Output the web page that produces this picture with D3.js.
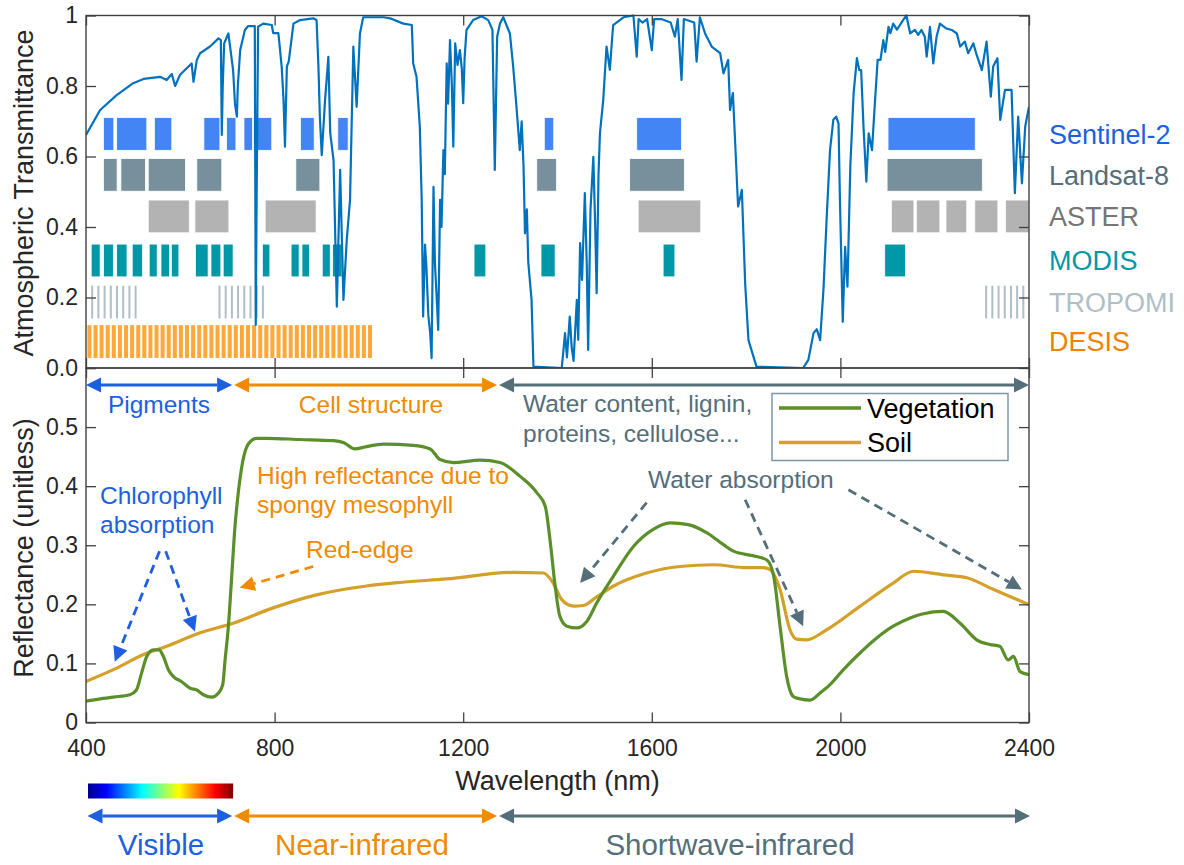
<!DOCTYPE html>
<html>
<head>
<meta charset="utf-8">
<script src="https://cdn.jsdelivr.net/npm/d3@7"></script>
<style>
  body { margin: 0; background: #fff; }
  svg { font-family: "Liberation Sans", Arial, sans-serif; }
</style>
</head>
<body>
<div id="chart"></div>
<script>
// atmospheric transmittance: [wavelength nm, transmittance]
const transmittance = [
  [400,0.661],[430,0.732],[465,0.774],[500,0.808],[522,0.820],[557,0.826],[571,0.817],[582,0.834],[589,0.800],[599,0.831],
  [624,0.864],[628,0.812],[635,0.874],[642,0.893],[663,0.912],[681,0.935],[686,0.930],[688,0.661],[690,0.800],[693,0.921],
  [702,0.949],[712,0.845],[716,0.750],[720,0.713],[722,0.800],[727,0.902],[737,0.959],[744,0.970],[758,0.970],[760,0.122],
  [762,0.500],[765,0.968],[776,0.977],[794,0.973],[797,0.950],[808,0.950],[815,0.855],[819,0.760],[822,0.628],[826,0.855],
  [830,0.870],[840,0.977],[854,0.987],[882,0.992],[889,0.987],[893,0.855],[896,0.713],[900,0.604],[907,0.760],[914,0.883],
  [918,0.666],[925,0.590],[932,0.174],[939,0.562],[946,0.193],[953,0.363],[960,0.477],[967,0.912],[974,0.741],[981,0.949],
  [988,0.995],[1031,0.995],[1045,0.992],[1073,0.977],[1091,0.973],[1094,0.864],[1101,0.826],[1108,0.684],[1112,0.477],[1115,0.146],
  [1119,0.350],[1122,0.287],[1126,0.150],[1130,0.099],[1133,0.028],[1137,0.514],[1140,0.300],[1144,0.193],[1147,0.108],[1151,0.477],
  [1154,0.400],[1158,0.618],[1161,0.550],[1165,0.864],[1168,0.750],[1172,0.930],[1176,0.800],[1179,0.628],[1183,0.921],[1188,0.860],
  [1193,0.902],[1197,0.850],[1200,0.751],[1203,0.880],[1207,0.959],[1221,0.987],[1239,0.998],[1253,0.987],[1262,0.960],[1267,0.562],
  [1272,0.940],[1278,0.977],[1285,0.995],[1299,0.949],[1306,0.855],[1313,0.741],[1320,0.618],[1324,0.700],[1328,0.571],[1331,0.382],
  [1335,0.450],[1338,0.300],[1345,0.193],[1349,0.004],[1409,0.000],[1416,0.099],[1420,0.030],[1426,0.146],[1430,0.060],[1434,0.020],
  [1441,0.193],[1444,0.080],[1448,0.354],[1452,0.250],[1458,0.496],[1462,0.300],[1465,0.051],[1470,0.450],[1476,0.599],[1480,0.400],
  [1483,0.212],[1487,0.550],[1490,0.666],[1497,0.760],[1504,0.912],[1511,0.846],[1518,0.973],[1540,0.995],[1561,1.000],[1568,0.883],
  [1572,0.990],[1580,0.980],[1590,0.990],[1600,0.902],[1605,0.990],[1620,0.990],[1640,0.980],[1649,0.940],[1655,0.990],[1663,0.817],
  [1668,0.990],[1690,0.980],[1695,0.869],[1702,0.995],[1713,0.949],[1727,0.912],[1745,0.893],[1752,0.836],[1762,0.874],[1766,0.732],
  [1772,0.780],[1783,0.458],[1791,0.505],[1798,0.240],[1805,0.079],[1822,0.004],[1921,0.000],[1932,0.023],[1943,0.099],[1950,0.110],
  [1957,0.079],[1964,0.221],[1971,0.429],[1978,0.618],[1985,0.704],[1991,0.713],[1996,0.694],[1999,0.477],[2005,0.131],[2010,0.344],
  [2015,0.231],[2021,0.571],[2028,0.779],[2035,0.879],[2040,0.845],[2044,0.845],[2049,0.684],[2055,0.529],[2060,0.666],[2067,0.618],
  [2074,0.770],[2079,0.874],[2085,0.874],[2091,0.930],[2095,0.897],[2102,0.968],[2106,0.950],[2112,0.977],[2120,0.960],[2133,0.987],
  [2140,1.000],[2148,0.949],[2158,0.959],[2165,0.945],[2172,0.959],[2179,0.940],[2183,0.883],[2190,0.968],[2197,0.864],[2204,0.940],
  [2211,0.977],[2225,0.963],[2236,0.959],[2247,0.949],[2254,0.912],[2264,0.926],[2271,0.893],[2282,0.921],[2289,0.888],[2300,0.845],
  [2310,0.926],[2319,0.770],[2324,0.855],[2333,0.879],[2339,0.704],[2349,0.789],[2356,0.789],[2363,0.789],[2370,0.496],[2377,0.713],
  [2385,0.524],[2392,0.685],[2400,0.741]
];

// reflectance spectra: [wavelength nm, reflectance]
const vegetation = [
  [400,0.036],[430,0.040],[458,0.043],[493,0.047],[507,0.055],[518,0.084],[529,0.112],[543,0.123],[555,0.123],[564,0.112],
  [575,0.089],[585,0.078],[603,0.069],[621,0.058],[635,0.055],[649,0.047],[667,0.043],[681,0.050],[690,0.064],[695,0.106],
  [702,0.163],[709,0.247],[716,0.332],[723,0.389],[732,0.440],[744,0.471],[762,0.481],[783,0.481],[854,0.479],[925,0.477],
  [946,0.474],[970,0.463],[995,0.467],[1031,0.471],[1094,0.469],[1130,0.463],[1151,0.445],[1179,0.440],[1236,0.444],[1278,0.440],
  [1320,0.417],[1356,0.389],[1374,0.366],[1384,0.310],[1395,0.231],[1405,0.180],[1420,0.163],[1441,0.160],[1462,0.171],[1483,0.202],
  [1518,0.247],[1561,0.298],[1603,0.327],[1639,0.338],[1677,0.335],[1717,0.321],[1752,0.301],[1773,0.290],[1822,0.281],[1844,0.275],
  [1858,0.250],[1872,0.163],[1886,0.078],[1900,0.044],[1914,0.040],[1936,0.038],[1957,0.050],[1978,0.064],[2006,0.089],[2042,0.118],
  [2077,0.143],[2112,0.163],[2148,0.177],[2176,0.184],[2218,0.188],[2254,0.168],[2289,0.140],[2317,0.132],[2338,0.129],[2356,0.106],
  [2367,0.112],[2381,0.086],[2400,0.081]
];
const soil = [
  [400,0.0695],[465,0.092],[522,0.115],[571,0.129],[642,0.152],[712,0.168],[797,0.194],[889,0.216],[995,0.231],[1066,0.237],
  [1165,0.243],[1306,0.254],[1370,0.253],[1391,0.236],[1409,0.208],[1434,0.197],[1455,0.198],[1483,0.2125],[1519,0.231],[1589,0.253],
  [1660,0.264],[1731,0.267],[1801,0.262],[1836,0.262],[1851,0.259],[1865,0.240],[1872,0.225],[1893,0.157],[1907,0.141],[1928,0.140],
  [1971,0.157],[2042,0.197],[2112,0.236],[2155,0.256],[2218,0.250],[2268,0.245],[2325,0.225],[2400,0.1995]
];

// sensor band ranges (nm)
const sensorNames = ['Sentinel-2', 'Landsat-8', 'ASTER', 'MODIS', 'TROPOMI', 'DESIS'];
const sentinel2Bands = [[437,459],[465,529],[545,582],[650,684],[698,718],[735,753],[755,794],[855,884],[934,956],[1372,1392],[1568,1663],[2101,2286]];
const landsat8Bands = [[437,466],[474,526],[532,611],[635,688],[845,896],[1356,1398],[1553,1669],[2099,2301]];
const asterBands = [[532,619],[631,703],[780,888],[1571,1704],[2108,2156],[2161,2211],[2224,2268],[2285,2334],[2350,2400]];
const modisBands = [[411,430],[437,458],[465,487],[498,520],[534,551],[559,577],[581,597],[632,659],[665,686],[691,712],[774,790],[835,852],[858,874],[901,918],[923,943],[1223,1248],[1365,1395],[1624,1649],[2094,2138]];
const tropomiBands = [[411,505],[681,777],[2307,2388]];
const desisBands = [[403,1004]];
const rowCenters = [0.664, 0.548, 0.430, 0.305, 0.187, 0.075];
const rowHeight = 0.093;

// spectral regions (nm)
const regionNames = ['Visible', 'Near-infrared', 'Shortwave-infrared'];
const regionBounds = [[400, 712], [712, 1274], [1274, 2400]];
const featureNames = ['Pigments', 'Cell structure'];

const topTicks = [0, 0.2, 0.4, 0.6, 0.8, 1];
const bottomTicks = [0, 0.1, 0.2, 0.3, 0.4, 0.5];
const xTicks = [400, 800, 1200, 1600, 2000, 2400];

const W = 1184, H = 865;
const margin = { left: 86, right: 1029, top: 15.5, mid: 368, bottom: 722.5 };

const x = d3.scaleLinear().domain([400, 2400]).range([margin.left, margin.right]);
const yTop = d3.scaleLinear().domain([0, 1]).range([margin.mid, margin.top]);
const yBot = d3.scaleLinear().domain([0, 0.6]).range([margin.bottom, margin.mid]);

const axisColor = '#404040';
const blue = '#1c5fdf', orange = '#f08a00', slate = '#546e7a';
const bandFill = ['#4385f4', '#78909c', '#b3b3b3', '#0097a7', '#b0bec5', '#ffa83a'];
const labelColor = ['#1c5fdf', '#546e7a', '#757575', '#0097a7', '#b0bec5', '#ef8200'];

const svg = d3.select('#chart').append('svg').attr('width', W).attr('height', H);
const defs = svg.append('defs');
defs.append('clipPath').attr('id', 'clipTop').append('rect')
  .attr('x', margin.left).attr('y', margin.top - 2).attr('width', margin.right - margin.left).attr('height', margin.mid - margin.top + 2);
defs.append('clipPath').attr('id', 'clipBot').append('rect')
  .attr('x', margin.left).attr('y', margin.mid).attr('width', margin.right - margin.left).attr('height', margin.bottom - margin.mid);

const styleAxis = g => {
  g.select('.domain').remove();
  g.selectAll('.tick line').attr('stroke', axisColor).attr('stroke-width', 1.3);
  g.selectAll('.tick text').attr('fill', '#262626').style('font-size', '23px');
};

// ---- top panel: sensor bands ----
const bands = [sentinel2Bands, landsat8Bands, asterBands, modisBands, tropomiBands, desisBands];
const bandG = svg.append('g').attr('clip-path', 'url(#clipTop)');
bands.forEach((list, i) => {
  const y0 = yTop(rowCenters[i] + rowHeight / 2), y1 = yTop(rowCenters[i] - rowHeight / 2);
  if (i < 4) {
    bandG.selectAll(null).data(list).enter().append('rect')
      .attr('x', d => x(d[0])).attr('y', y0)
      .attr('width', d => x(d[1]) - x(d[0])).attr('height', y1 - y0)
      .attr('fill', bandFill[i]).attr('stroke', '#fff').attr('stroke-width', 0.8);
  } else {
    // striped sensors (many narrow bands)
    const pitch = i === 5 ? 6.1 : 6.2, sw = i === 5 ? 4 : 2;
    list.forEach(d => {
      bandG.selectAll(null).data(d3.range(x(d[0]), x(d[1]) - sw + 1.5, pitch)).enter().append('rect')
        .attr('x', v => v).attr('y', y0).attr('width', sw).attr('height', y1 - y0)
        .attr('fill', bandFill[i]);
    });
  }
});

// transmittance line
const tLine = d3.line().x(d => x(d[0])).y(d => yTop(d[1]));
svg.append('path').datum(transmittance)
  .attr('clip-path', 'url(#clipTop)')
  .attr('d', tLine).attr('fill', 'none').attr('stroke', '#0072bd').attr('stroke-width', 2.2).attr('stroke-linejoin', 'round');

// sensor names
svg.selectAll('.sensor').data(sensorNames).enter().append('text')
  .attr('class', 'sensor')
  .attr('x', 1049).attr('y', (d, i) => yTop(rowCenters[i])).attr('dy', '0.36em')
  .style('font-size', '27px').attr('fill', (d, i) => labelColor[i])
  .text(d => d);

// top panel axes
svg.append('g').attr('transform', `translate(${margin.left},0)`)
  .call(d3.axisLeft(yTop).tickValues(topTicks).tickSizeInner(-10).tickSizeOuter(0).tickPadding(8)
    .tickFormat(d => d === 0 ? '0.0' : d === 1 ? '1' : d3.format('.1f')(d)))
  .call(styleAxis);
svg.append('g').attr('transform', `translate(${margin.right},0)`)
  .call(d3.axisRight(yTop).tickValues(topTicks).tickSizeInner(-10).tickSizeOuter(0).tickFormat(''))
  .call(styleAxis);
svg.append('g').attr('transform', `translate(0,${margin.top})`)
  .call(d3.axisTop(x).tickValues(xTicks).tickSizeInner(-10).tickSizeOuter(0).tickFormat(''))
  .call(styleAxis);
svg.append('g').attr('transform', `translate(0,${margin.mid})`)
  .call(d3.axisBottom(x).tickValues(xTicks).tickSizeInner(-10).tickSizeOuter(0).tickFormat(''))
  .call(styleAxis);

// ---- bottom panel ----
const rLine = d3.line().x(d => x(d[0])).y(d => yBot(d[1])).curve(d3.curveMonotoneX);
svg.append('path').datum(soil).attr('clip-path', 'url(#clipBot)')
  .attr('d', rLine).attr('fill', 'none').attr('stroke', '#d4a02a').attr('stroke-width', 3.2);
svg.append('path').datum(vegetation).attr('clip-path', 'url(#clipBot)')
  .attr('d', rLine).attr('fill', 'none').attr('stroke', '#5b8f29').attr('stroke-width', 3.2);

svg.append('g').attr('transform', `translate(${margin.left},0)`)
  .call(d3.axisLeft(yBot).tickValues(bottomTicks.concat([0.6])).tickSizeInner(-10).tickSizeOuter(0).tickPadding(8)
    .tickFormat(d => d === 0 ? '0' : d === 0.6 ? '' : d3.format('.1f')(d)))
  .call(styleAxis);
svg.append('g').attr('transform', `translate(${margin.right},0)`)
  .call(d3.axisRight(yBot).tickValues(bottomTicks).tickSizeInner(-10).tickSizeOuter(0).tickFormat(''))
  .call(styleAxis);
svg.append('g').attr('transform', `translate(0,${margin.mid})`)
  .call(d3.axisTop(x).tickValues(xTicks).tickSizeInner(-10).tickSizeOuter(0).tickFormat(''))
  .call(styleAxis);
svg.append('g').attr('transform', `translate(0,${margin.bottom})`)
  .call(d3.axisBottom(x).tickValues(xTicks).tickSizeInner(-10).tickSizeOuter(0).tickPadding(17).tickFormat(d3.format('d')))
  .call(styleAxis);

// frames
[[margin.top, margin.mid], [margin.mid, margin.bottom]].forEach(([a, b]) => {
  svg.append('rect').attr('x', margin.left).attr('y', a)
    .attr('width', margin.right - margin.left).attr('height', b - a)
    .attr('fill', 'none').attr('stroke', axisColor).attr('stroke-width', 1.4);
});

// axis titles
svg.append('text').attr('transform', 'translate(33,193) rotate(-90)').attr('text-anchor', 'middle')
  .style('font-size', '27px').attr('fill', '#262626').text('Atmospheric Transmittance');
svg.append('text').attr('transform', 'translate(33,548) rotate(-90)').attr('text-anchor', 'middle')
  .style('font-size', '27px').attr('fill', '#262626').text('Reflectance (unitless)');
svg.append('text').attr('x', (margin.left + margin.right) / 2).attr('y', 790).attr('text-anchor', 'middle')
  .style('font-size', '27px').attr('fill', '#262626').text('Wavelength (nm)');

// ---- arrows ----
const head = (g, from, to, color, len, half) => {
  const a = Math.atan2(to[1] - from[1], to[0] - from[0]);
  const bx = to[0] - len * Math.cos(a), by = to[1] - len * Math.sin(a);
  const px = -Math.sin(a) * half, py = Math.cos(a) * half;
  g.append('path').attr('d', `M${to[0]},${to[1]}L${bx + px},${by + py}L${bx - px},${by - py}Z`).attr('fill', color);
  return [bx, by];
};
const doubleArrow = (y, x0, x1, color) => {
  const g = svg.append('g');
  const a = head(g, [x1, y], [x0, y], color, 15, 7.5);
  const b = head(g, [x0, y], [x1, y], color, 15, 7.5);
  g.append('line').attr('x1', a[0]).attr('x2', b[0]).attr('y1', y).attr('y2', y)
    .attr('stroke', color).attr('stroke-width', 3);
};
const dashArrow = (from, to, color) => {
  const g = svg.append('g');
  const p0 = [x(from[0]), yBot(from[1])], p1 = [x(to[0]), yBot(to[1])];
  const b = head(g, p0, p1, color, 15, 7.5);
  g.append('line').attr('x1', p0[0]).attr('y1', p0[1]).attr('x2', b[0]).attr('y2', b[1])
    .attr('stroke', color).attr('stroke-width', 2.8).attr('stroke-dasharray', '9,6');
};

const regionColors = [blue, orange, slate];
regionBounds.forEach((r, i) => {
  const x0 = x(r[0]) + (i ? 1 : 0), x1 = x(r[1]) - (i < 2 ? 1 : 0);
  doubleArrow(385, x0, x1, regionColors[i]);
  doubleArrow(816, x0 + (i ? 0 : 1.5), x1 + (i === 2 ? 1 : 0), regionColors[i]);
});

// jet colour bar for the visible range
const jet = ['#00008f', '#0000ff', '#00ffff', '#ffff00', '#ff0000', '#800000'];
const jetPos = [0, 0.125, 0.375, 0.625, 0.875, 1];
const grad = defs.append('linearGradient').attr('id', 'jet');
grad.selectAll('stop').data(jet).enter().append('stop')
  .attr('offset', (d, i) => jetPos[i]).attr('stop-color', d => d);
svg.append('rect').attr('x', x(regionBounds[0][0]) + 2).attr('y', 783.5)
  .attr('width', x(regionBounds[0][1]) - x(regionBounds[0][0]) - 2).attr('height', 15)
  .attr('fill', 'url(#jet)');

// region labels (bottom)
const regionLabelX = [161, 362, 730];
svg.selectAll('.region').data(regionNames).enter().append('text')
  .attr('x', (d, i) => regionLabelX[i]).attr('y', 855).attr('text-anchor', 'middle')
  .style('font-size', '29.5px').attr('fill', (d, i) => regionColors[i]).text(d => d);

// annotations
const note = (lines, xx, yy, color, anchor) => {
  const t = svg.append('text').attr('x', xx).attr('y', yy).attr('text-anchor', anchor || 'start')
    .style('font-size', '24.5px').attr('fill', color);
  lines.forEach((l, i) => t.append('tspan').attr('x', xx).attr('dy', i ? 29.5 : 0).text(l));
};
note([featureNames[0]], 159, 413, blue, 'middle');
note([featureNames[1]], 371, 413, orange, 'middle');
note(['Water content, lignin,', 'proteins, cellulose...'], 523, 412, slate);
note(['High reflectance due to', 'spongy mesophyll'], 257, 483.5, orange);
note(['Red-edge'], 306, 558, orange);
note(['Chlorophyll', 'absorption'], 100, 503.5, blue);
note(['Water absorption'], 648, 488, slate);

// dashed pointers, in data coordinates [nm, reflectance]
dashArrow([556, 0.290], [461, 0.103], blue);
dashArrow([569, 0.290], [631, 0.154], blue);
dashArrow([882, 0.264], [726, 0.228], orange);
dashArrow([1589, 0.372], [1448, 0.236], slate);
dashArrow([1798, 0.377], [1921, 0.163], slate);
dashArrow([2017, 0.394], [2385, 0.225], slate);

// legend box
const lg = svg.append('g');
lg.append('rect').attr('x', 772).attr('y', 393.5).attr('width', 236).attr('height', 67)
  .attr('fill', '#fff').attr('stroke', '#7e97a8').attr('stroke-width', 1.5);
[['Vegetation', '#5b8f29', 408], ['Soil', '#d4a02a', 442.5]].forEach(([name, c, yy]) => {
  lg.append('line').attr('x1', 779).attr('x2', 861).attr('y1', yy).attr('y2', yy)
    .attr('stroke', c).attr('stroke-width', 3.5);
  lg.append('text').attr('x', 867).attr('y', yy).attr('dy', '0.36em')
    .style('font-size', '27px').attr('fill', '#000').text(name);
});
</script>
</body>
</html>
